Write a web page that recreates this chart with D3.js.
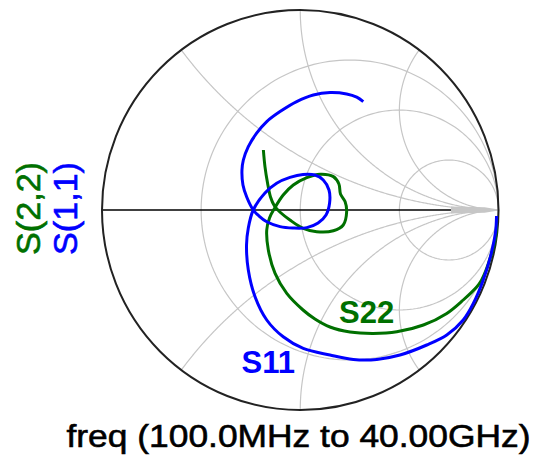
<!DOCTYPE html>
<html>
<head>
<meta charset="utf-8">
<script src="https://cdn.jsdelivr.net/npm/d3@7"></script>
<style>
  html, body { margin: 0; padding: 0; background: #fff; }
  svg { display: block; }
</style>
</head>
<body>
<script>
// Reflection coefficients (real, imaginary), sweep 100 MHz -> 40 GHz
const s11Re = [0.99, 0.985, 0.96, 0.923, 0.873, 0.822, 0.739, 0.638, 0.503, 0.386,
               0.268, 0.150, 0.015, -0.086, -0.169, -0.228, -0.262, -0.271, -0.262, -0.237,
               -0.178, -0.119, -0.052, 0.014, 0.074, 0.116, 0.145, 0.148, 0.130, 0.090,
               0.033, -0.037, -0.102, -0.169, -0.208, -0.237, -0.270, -0.289, -0.294, -0.287,
               -0.262, -0.220, -0.169, -0.102, -0.018, 0.066, 0.150, 0.234, 0.285, 0.318];
const s11Im = [-0.03, -0.11, -0.23, -0.35, -0.467, -0.55, -0.625, -0.675, -0.725, -0.747,
               -0.747, -0.725, -0.692, -0.634, -0.55, -0.434, -0.30, -0.175, -0.09, 0.0,
               0.085, 0.134, 0.163, 0.178, 0.175, 0.15, 0.10, 0.035, -0.025, -0.065,
               -0.088, -0.09, -0.083, -0.059, -0.03, 0.0, 0.065, 0.125, 0.20, 0.25,
               0.317, 0.384, 0.442, 0.492, 0.542, 0.575, 0.587, 0.58, 0.564, 0.542];

const s22Re = [0.99, 0.987, 0.960, 0.915, 0.890, 0.822, 0.739, 0.621, 0.487, 0.368,
               0.251, 0.150, 0.074, 0.014, -0.068, -0.127, -0.161, -0.169, -0.155, -0.130,
               -0.086, -0.035, 0.033, 0.100, 0.167, 0.195, 0.203, 0.226, 0.234, 0.217,
               0.167, 0.083, 0.015, -0.052, -0.097, -0.130, -0.150, -0.165, -0.178, -0.186];
const s22Im = [-0.035, -0.125, -0.235, -0.35, -0.385, -0.45, -0.517, -0.575, -0.609, -0.617,
               -0.61, -0.585, -0.545, -0.50, -0.417, -0.317, -0.20, -0.10, -0.04, 0.008,
               0.075, 0.125, 0.162, 0.179, 0.167, 0.13, 0.08, 0.042, -0.009, -0.075,
               -0.104, -0.109, -0.092, -0.05, -0.015, 0.02, 0.065, 0.135, 0.217, 0.30];

// Smith grid: constant-resistance circles and constant-reactance arcs
const resistanceValues = [1 / 3, 1, 3];
const reactanceValues = [0.5, 1, 2, -0.5, -1, -2];

// Text
const traceNames = ["S(2,2)", "S(1,1)"];
const traceLabels = ["S11", "S22"];
const sweepLabel = "freq (100.0MHz to 40.00GHz)";

const colors = { s11: "#0000ff", s22: "#007000", grid: "#c6c6c6", rim: "#222" };
const FONT = "'Liberation Sans', Arial, Helvetica, sans-serif";

const W = 536, H = 457;
const svg = d3.select("body").append("svg").attr("width", W).attr("height", H);

// Reflection-coefficient plane -> pixels
const x = d3.scaleLinear().domain([-1, 1]).range([102, 498.5]);
const y = d3.scaleLinear().domain([-1, 1]).range([410, 10]);
const line = d3.line().x(d => x(d[0])).y(d => y(d[1]));

const grid = svg.append("g").attr("fill", "none").attr("stroke", colors.grid).attr("stroke-width", 1.2);

// resistance circles: centre r/(1+r), radius 1/(1+r)
resistanceValues.forEach(r => {
  const c = r / (1 + r), rad = 1 / (1 + r);
  const pts = d3.range(0, 361, 2).map(a => {
    const t = a * Math.PI / 180;
    return [c + rad * Math.cos(t), rad * Math.sin(t)];
  });
  grid.append("path").attr("d", line(pts));
});

// reactance arcs: gamma(z) for z = r + jX, r from 0 to infinity
reactanceValues.forEach(X => {
  const pts = d3.range(0, 0.9995, 0.0025).map(t => {
    const r = t / (1 - t);
    const den = (r + 1) * (r + 1) + X * X;
    return [(r * r - 1 + X * X) / den, 2 * X / den];
  });
  pts.push([1, 0]);
  grid.append("path").attr("d", line(pts));
});

// converging lines at the open-circuit point
grid.append("path")
  .attr("d", line([[0.76, 0.017], [0.93, 0.014], [1, 0.002], [1, -0.002], [0.93, -0.014], [0.76, -0.017]]) + "Z")
  .attr("fill", colors.grid).attr("stroke", "none");

// real axis
svg.append("line")
  .attr("x1", x(-1)).attr("x2", x(0.76))
  .attr("y1", y(0)).attr("y2", y(0))
  .attr("stroke", "#000").attr("stroke-width", 1.5);

// unit circle rim
svg.append("ellipse")
  .attr("cx", x(0)).attr("cy", y(0))
  .attr("rx", x(1) - x(0)).attr("ry", y(-1) - y(0))
  .attr("fill", "none").attr("stroke", colors.rim).attr("stroke-width", 2);

// traces
const trace = d3.line().x(d => x(d[0])).y(d => y(d[1])).curve(d3.curveCatmullRom.alpha(0.5));
const s11 = s11Re.map((v, i) => [v, s11Im[i]]);
const s22 = s22Re.map((v, i) => [v, s22Im[i]]);

svg.append("path").attr("d", trace(s22))
  .attr("fill", "none").attr("stroke", colors.s22).attr("stroke-width", 3)
  .attr("stroke-linejoin", "round").attr("stroke-linecap", "butt");
svg.append("path").attr("d", trace(s11))
  .attr("fill", "none").attr("stroke", colors.s11).attr("stroke-width", 3)
  .attr("stroke-linejoin", "round").attr("stroke-linecap", "butt");

// trace labels on the chart
svg.append("text").attr("x", 241.5).attr("y", 373)
  .attr("font-family", FONT).attr("font-weight", "bold").attr("font-size", 31)
  .attr("fill", colors.s11).text(traceLabels[0]);
svg.append("text").attr("x", 339).attr("y", 323)
  .attr("font-family", FONT).attr("font-weight", "bold").attr("font-size", 31)
  .attr("fill", colors.s22).text(traceLabels[1]);

// vertical trace names
[[40, colors.s22, traceNames[0]], [77, colors.s11, traceNames[1]]].forEach(([bx, col, txt]) => {
  svg.append("text")
    .attr("transform", `translate(${bx},208.5) rotate(-90)`)
    .attr("text-anchor", "middle")
    .attr("font-family", FONT).attr("font-size", 34)
    .attr("textLength", 93).attr("lengthAdjust", "spacingAndGlyphs")
    .attr("fill", col).attr("stroke", col).attr("stroke-width", 0.6)
    .text(txt);
});

// sweep caption
svg.append("text").attr("x", 66.5).attr("y", 447)
  .attr("font-family", FONT).attr("font-size", 32)
  .attr("textLength", 464).attr("lengthAdjust", "spacingAndGlyphs")
  .attr("fill", "#000").attr("stroke", "#000").attr("stroke-width", 0.6)
  .text(sweepLabel);
</script>
</body>
</html>
